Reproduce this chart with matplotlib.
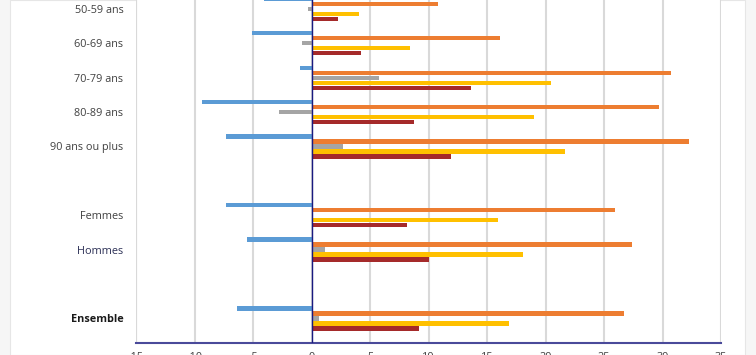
import matplotlib
matplotlib.use("Agg")
import matplotlib.pyplot as plt
from matplotlib.patches import Rectangle
import numpy as np

categories = ["50-59 ans", "60-69 ans", "70-79 ans", "80-89 ans", "90 ans ou plus",
              "", "Femmes", "Hommes", "", "Ensemble"]
serie_bleue = [-4.1, -5.1, -1.0, -9.4, -7.3, None, -7.3, -5.5, None, -6.4]
serie_orange = [10.8, 16.1, 30.7, 29.7, 32.3, None, 25.9, 27.4, None, 26.7]
serie_grise = [-0.3, -0.85, 5.8, -2.8, 2.7, None, 0.15, 1.15, None, 0.65]
serie_jaune = [4.1, 8.4, 20.5, 19.0, 21.7, None, 15.9, 18.1, None, 16.9]
serie_rouge = [2.3, 4.2, 13.6, 8.8, 11.9, None, 8.2, 10.0, None, 9.2]
xticks = [-15, -10, -5, 0, 5, 10, 15, 20, 25, 30, 35]

series = [serie_bleue, serie_orange, serie_grise, serie_jaune, serie_rouge]
colors = ["#5B9BD5", "#ED7D31", "#A5A5A5", "#FFC000", "#A52A2A"]

W, H = 756, 355
fig = plt.figure(figsize=(W / 100, H / 100), dpi=100, facecolor="#f6f6f6")
fig.patches.append(Rectangle((10 / W, 0), (745 - 10) / W, 1, transform=fig.transFigure,
                             facecolor="white", edgecolor="#e6e6e6", lw=0.8, zorder=-10))

ax = fig.add_axes([136 / W, 12 / H, (721 - 136) / W, 343 / H], zorder=5)
ax.set_facecolor("white")

y = np.arange(len(categories))
pitch = 0.145
for i, (vals, c) in enumerate(zip(series, colors)):
    off = (i - 2) * pitch
    for yi, v in zip(y, vals):
        if v is None:
            continue
        ax.barh(yi + off, v, height=0.125, color=c, edgecolor="none", zorder=3)

ax.set_xlim(-15, 35)
ax.set_ylim(9.716, -0.26)
ax.set_xticks(xticks)
ax.set_xticklabels([str(t) for t in xticks])
ax.xaxis.grid(True, color="#d9d9d9", lw=1.5, zorder=0)
ax.set_axisbelow(True)
ax.axvline(0, color="#1a1a80", lw=1.0, zorder=4)

ax.set_yticks([i for i, c in enumerate(categories) if c])
labels = [c for c in categories if c]
ax.set_yticklabels(labels)
for lab in ax.get_yticklabels():
    lab.set_fontfamily("Open Sans")
    lab.set_fontsize(7.8)
    lab.set_color("#404040")
    if lab.get_text() == "Ensemble":
        lab.set_fontweight("bold")
        lab.set_color("#1a1a1a")
    if lab.get_text() == "Hommes":
        lab.set_color("#2b2f55")
for lab in ax.get_xticklabels():
    lab.set_fontfamily("Open Sans")
    lab.set_fontsize(7.8)
    lab.set_color("#404040")

ax.tick_params(axis="y", length=0, pad=9)
ax.tick_params(axis="x", length=0, pad=6.5)
for s in ["top", "right", "left"]:
    ax.spines[s].set_visible(False)
ax.spines["bottom"].set_color("#4a4a9a")
ax.spines["bottom"].set_linewidth(1.5)
ax.axvline(-15, color="#d9d9d9", lw=1.5, zorder=1)

fig.savefig("out.png", dpi=100, facecolor=fig.get_facecolor())
